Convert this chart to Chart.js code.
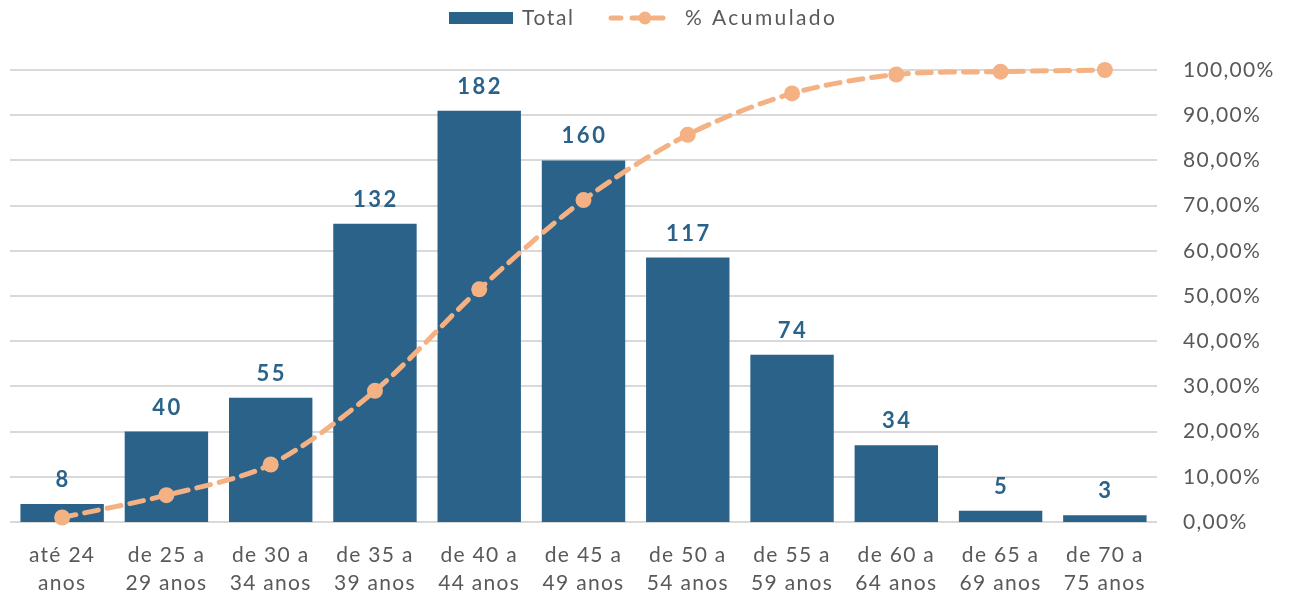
<!DOCTYPE html>
<html>
<head>
<meta charset="utf-8">
<script src="https://cdn.jsdelivr.net/npm/chart.js@4"></script>
<style>
  html, body { margin: 0; padding: 0; background: #fff; }
  #wrap { width: 1291px; height: 596px; position: relative; }
</style>
</head>
<body>
<div id="wrap"><canvas id="chart"></canvas></div>
<script>
const categories = [
  ["até 24", "anos"],
  ["de 25 a", "29 anos"],
  ["de 30 a", "34 anos"],
  ["de 35 a", "39 anos"],
  ["de 40 a", "44 anos"],
  ["de 45 a", "49 anos"],
  ["de 50 a", "54 anos"],
  ["de 55 a", "59 anos"],
  ["de 60 a", "64 anos"],
  ["de 65 a", "69 anos"],
  ["de 70 a", "75 anos"],
];
const totals = [8, 40, 55, 132, 182, 160, 117, 74, 34, 5, 3];
const accumulated = [0.0099, 0.0593, 0.1272, 0.2901, 0.5148, 0.7123, 0.8568, 0.9481, 0.9901, 0.9963, 1.0];
const seriesNames = ["Total", "% Acumulado"];

const BAR_COLOR = "#2a628a";
const LINE_COLOR = "#f4b183";
const TEXT_COLOR = "#595959";
const FONT = "Lato, 'Open Sans', sans-serif";

function formatPercent(v) {
  return (v * 100).toFixed(2).replace(".", ",") + "%";
}

// the original font is wider than Lato, a bit of tracking gets the widths close
const tracking = {
  id: "tracking",
  beforeDraw(chart) {
    chart.ctx.letterSpacing = "1.3px";
  },
};

// value labels above the bars
const barLabels = {
  id: "barLabels",
  afterDatasetsDraw(chart) {
    const ctx = chart.ctx;
    const meta = chart.getDatasetMeta(0);
    ctx.save();
    ctx.letterSpacing = "2.5px";
    ctx.font = "bold 22px " + FONT;
    ctx.fillStyle = BAR_COLOR;
    ctx.textAlign = "center";
    ctx.textBaseline = "bottom";
    meta.data.forEach((bar, i) => {
      ctx.fillText(String(totals[i]), bar.x + 1, bar.y - 13);
    });
    ctx.restore();
  },
};

// legend drawn by hand so the line entry can show the dashed line with its marker
const customLegend = {
  id: "customLegend",
  afterDraw(chart) {
    const ctx = chart.ctx;
    const y = 18;
    ctx.save();
    ctx.letterSpacing = "1.6px";
    ctx.font = "21px " + FONT;
    ctx.textBaseline = "middle";

    ctx.fillStyle = BAR_COLOR;
    ctx.fillRect(449, y - 6, 64, 12);
    ctx.fillStyle = TEXT_COLOR;
    ctx.fillText(seriesNames[0], 522, y);

    ctx.strokeStyle = LINE_COLOR;
    ctx.lineWidth = 5;
    ctx.lineCap = "round";
    ctx.setLineDash([10, 11]);
    ctx.beginPath();
    ctx.moveTo(611, y);
    ctx.lineTo(672, y);
    ctx.stroke();
    ctx.setLineDash([]);
    ctx.fillStyle = LINE_COLOR;
    ctx.beginPath();
    ctx.arc(645, y, 6.5, 0, Math.PI * 2);
    ctx.fill();
    ctx.fillStyle = TEXT_COLOR;
    ctx.letterSpacing = "2.4px";
    ctx.fillText(seriesNames[1], 685, y);
    ctx.restore();
  },
};

new Chart(document.getElementById("chart"), {
  type: "bar",
  data: {
    labels: categories,
    datasets: [
      {
        type: "bar",
        label: seriesNames[0],
        data: totals,
        backgroundColor: BAR_COLOR,
        categoryPercentage: 1,
        barPercentage: 0.8,
        yAxisID: "y",
        order: 1,
      },
      {
        type: "line",
        label: seriesNames[1],
        data: accumulated,
        borderColor: LINE_COLOR,
        backgroundColor: LINE_COLOR,
        borderWidth: 5,
        borderDash: [14, 9],
        borderCapStyle: "round",
        pointRadius: 8,
        pointBackgroundColor: LINE_COLOR,
        pointBorderWidth: 0,
        tension: 0.3,
        yAxisID: "y1",
        clip: false,
        order: 0,
      },
    ],
  },
  options: {
    responsive: true,
    maintainAspectRatio: false,
    animation: false,
    layout: { padding: { left: 10, top: 70, right: 0, bottom: 0 } },
    plugins: {
      legend: { display: false },
      tooltip: { enabled: false },
    },
    scales: {
      x: {
        grid: { display: false },
        border: { display: false },
        ticks: {
          color: TEXT_COLOR,
          font: { family: FONT, size: 21, lineHeight: 1.3 },
          padding: 12,
          maxRotation: 0,
          autoSkip: false,
        },
        afterFit(scale) {
          scale.height = 74;
        },
      },
      y: {
        display: false,
        min: 0,
        max: 200,
      },
      y1: {
        position: "right",
        min: 0,
        max: 1,
        border: { display: false },
        grid: { color: "#d9d9d9", lineWidth: 2, drawTicks: false },
        ticks: {
          stepSize: 0.1,
          color: TEXT_COLOR,
          font: { family: FONT, size: 21 },
          padding: 26,
          callback: (v) => formatPercent(v),
        },
        afterFit(scale) {
          scale.width = 134;
        },
      },
    },
  },
  plugins: [tracking, barLabels, customLegend],
});
</script>
</body>
</html>
